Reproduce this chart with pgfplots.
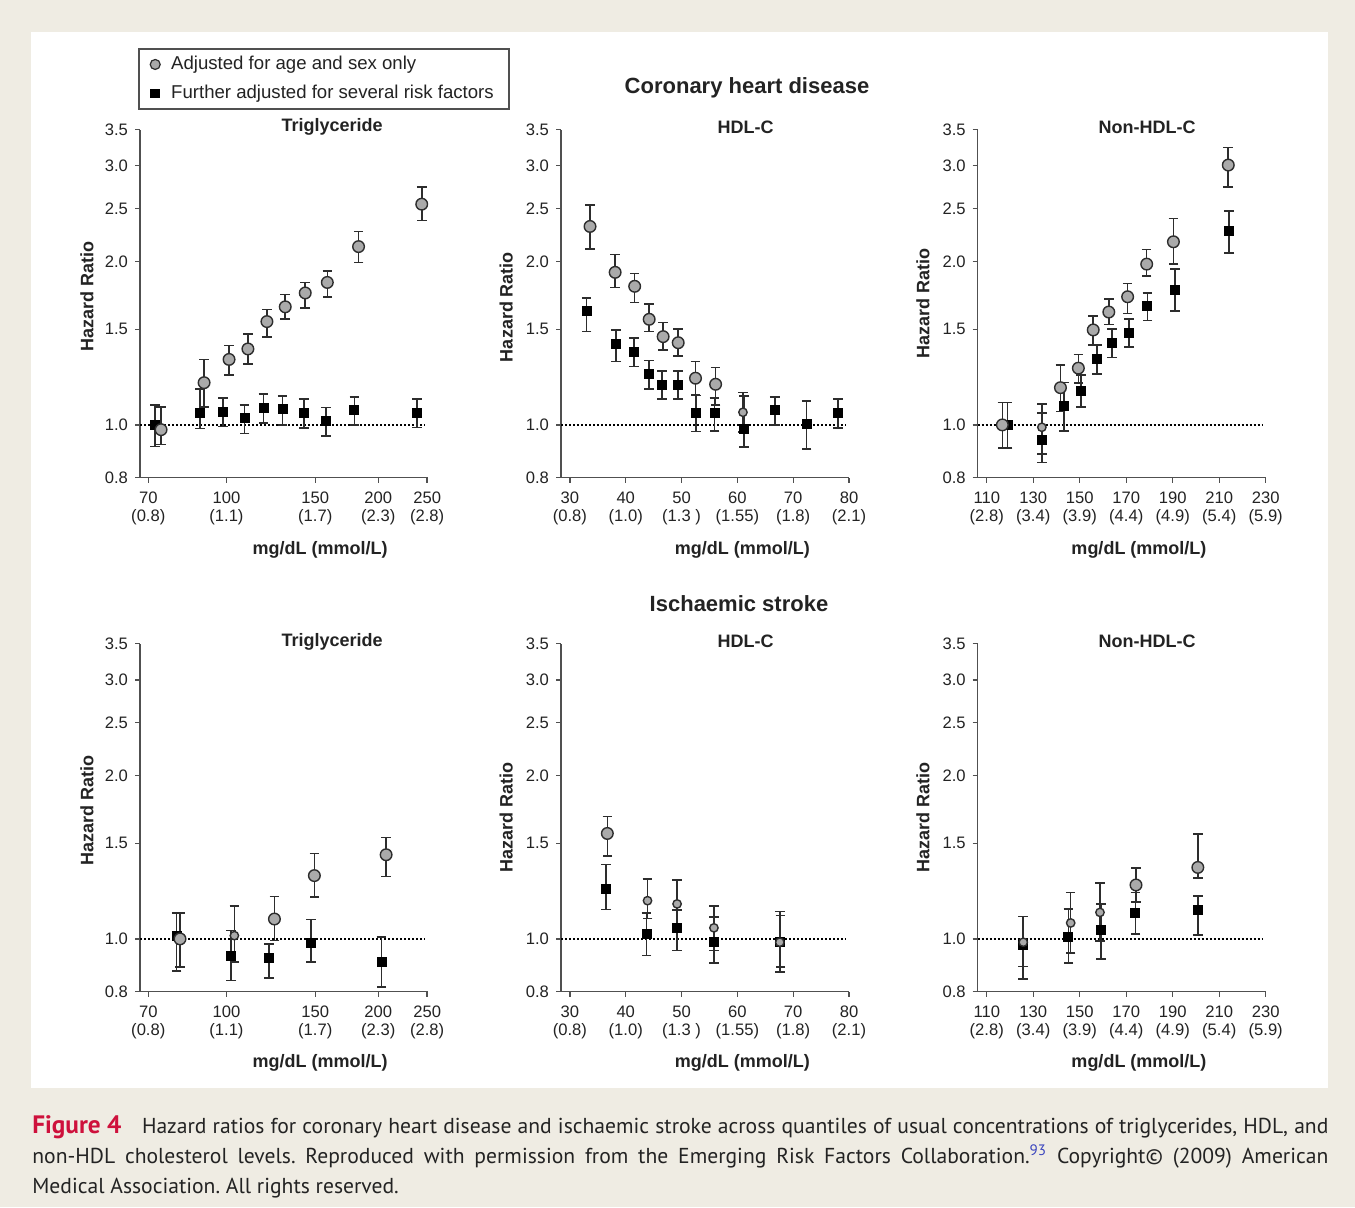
\documentclass[border=0pt]{standalone}
\usepackage{fontspec}
\setmainfont{Liberation Sans}
\newfontfamily\capfont{PT Sans}
\usepackage{pgfplots}
\usepackage{pgfplotstable}
\pgfplotsset{compat=1.18}

\definecolor{bgbeige}{RGB}{239,236,227}
\definecolor{txt}{RGB}{35,35,35}
\definecolor{ebar}{RGB}{45,45,45}
\definecolor{axgray}{RGB}{80,80,80}
\definecolor{cfill}{RGB}{170,170,170}
\definecolor{figred}{RGB}{206,17,60}
\definecolor{supblue}{RGB}{60,70,190}

% columns: x, hazard ratio, upper and lower ends of the error bar
% coronary heart disease
\pgfplotstableread{
x y hi lo
74.2 0.98 1.08 0.92
90.3 1.196 1.32 1.08
101.2 1.32 1.40 1.236
110.3 1.38 1.47 1.295
120.3 1.55 1.63 1.45
130.8 1.65 1.74 1.567
143.3 1.75 1.83 1.64
158.5 1.83 1.92 1.72
182.8 2.13 2.27 1.99
243.9 2.55 2.74 2.38
}\chdTgA
\pgfplotstableread{
x y hi lo
72.2 1.000 1.088 0.912
88.7 1.050 1.163 0.985
98.4 1.058 1.120 0.993
108.6 1.029 1.088 0.965
118.4 1.076 1.139 1.007
129.2 1.069 1.130 1.000
142.3 1.050 1.115 0.986
157.6 1.018 1.076 0.954
179.3 1.066 1.127 1.000
238.8 1.050 1.115 0.989
}\chdTgF
\pgfplotstableread{
x y hi lo
33.6 2.32 2.54 2.11
38.1 1.91 2.06 1.79
41.6 1.80 1.90 1.68
44.2 1.565 1.67 1.485
46.7 1.454 1.545 1.374
49.4 1.417 1.50 1.34
52.5 1.219 1.308 1.136
56.1 1.188 1.275 1.088
}\chdHdA
\pgfplotstableread{
x y hi lo
61.0 1.055 1.147 0.97
}\chdHdAs
\pgfplotstableread{
x y hi lo
33.0 1.62 1.715 1.485
38.3 1.41 1.496 1.308
41.5 1.364 1.444 1.28
44.2 1.24 1.313 1.163
46.5 1.185 1.257 1.115
49.4 1.185 1.257 1.115
52.6 1.05 1.132 0.972
55.9 1.053 1.12 0.975
61.2 0.983 1.13 0.91
66.7 1.066 1.127 1.0
72.4 1.003 1.107 0.902
78.0 1.053 1.115 0.986
}\chdHdF
\pgfplotstableread{
x y hi lo
116.7 1.0 1.099 0.906
141.7 1.171 1.29 1.058
149.4 1.272 1.349 1.193
155.8 1.496 1.589 1.404
162.5 1.614 1.704 1.532
170.6 1.722 1.823 1.605
178.8 1.978 2.105 1.88
190.3 2.174 2.40 1.978
213.9 3.01 3.24 2.74
}\chdNhA
\pgfplotstableread{
x y hi lo
133.7 0.99 1.093 0.884
}\chdNhAs
\pgfplotstableread{
x y hi lo
119.0 1.0 1.099 0.906
133.7 0.938 1.053 0.852
143.2 1.084 1.196 0.975
150.6 1.155 1.236 1.08
157.3 1.321 1.404 1.24
163.9 1.414 1.50 1.33
171.3 1.475 1.565 1.39
179.1 1.656 1.75 1.556
191.0 1.772 1.936 1.623
214.3 2.278 2.48 2.075
}\chdNhF
% ischaemic stroke
\pgfplotstableread{
x y hi lo
80.9 1.0 1.115 0.887
124.5 1.088 1.196 0.993
149.4 1.308 1.437 1.193
207.3 1.429 1.538 1.302
}\isTgA
\pgfplotstableread{
x y hi lo
103.7 1.014 1.151 0.906
}\isTgAs
\pgfplotstableread{
x y hi lo
79.7 1.014 1.115 0.872
102.2 0.929 1.036 0.838
121.5 0.923 0.979 0.848
147.2 0.983 1.085 0.906
202.9 0.906 1.007 0.815
}\isTgF
\pgfplotstableread{
x y hi lo
36.7 1.564 1.68 1.423
}\isHdA
\pgfplotstableread{
x y hi lo
43.9 1.176 1.29 1.091
49.2 1.16 1.284 1.05
55.8 1.048 1.151 0.952
67.6 0.986 1.123 0.868
}\isHdAs
\pgfplotstableread{
x y hi lo
36.5 1.236 1.37 1.132
43.7 1.021 1.116 0.932
49.2 1.05 1.13 0.952
55.8 0.986 1.096 0.903
67.7 0.986 1.104 0.887
}\isHdF
\pgfplotstableread{
x y hi lo
174.2 1.257 1.351 1.17
200.8 1.354 1.56 1.295
}\isNhA
\pgfplotstableread{
x y hi lo
125.7 0.986 1.099 0.89
146.1 1.07 1.218 0.942
158.7 1.119 1.268 0.99
}\isNhAs
\pgfplotstableread{
x y hi lo
125.5 0.975 1.099 0.844
145.1 1.01 1.136 0.903
159.2 1.039 1.16 0.919
173.9 1.115 1.218 1.021
200.8 1.131 1.2 1.017
}\isNhF

\pgfplotsset{
  hrax/.style={
    scale only axis, width=144pt, height=174pt,
    ymin=0.8, ymax=3.5,
    ytick={0.8,1,1.5,2,2.5,3,3.5},
    yticklabels={0.8,1.0,1.5,2.0,2.5,3.0,3.5},
    xminorticks=false, yminorticks=false,
    axis x line*=bottom, axis y line*=left,
    axis line style={line width=0.65pt, color=axgray},
    tick style={line width=0.65pt, color=axgray},
    tick align=outside, major tick length=2.5pt,
    tick label style={font=\fontsize{8.3}{9}\selectfont, text=txt},
    xticklabel style={align=center, yshift=-1pt},
    ylabel={Hazard Ratio}, xlabel={mg/dL (mmol/L)},
    label style={font=\bfseries\fontsize{9}{10}\selectfont, text=txt},
    title style={font=\bfseries\fontsize{9}{10}\selectfont, text=txt, anchor=center},
  },
  circ/.style={only marks, mark=*, mark size=2.9pt,
    mark options={fill=cfill, draw=ebar, line width=0.7pt}},
  circs/.style={only marks, mark=*, mark size=2.1pt,
    mark options={fill=cfill, draw=ebar, line width=0.7pt}},
  sq/.style={only marks, mark=square*, mark size=2.25pt,
    mark options={fill=black, draw=black}},
  errs/.style={
    /pgfplots/error bars/y dir=both,
    /pgfplots/error bars/y explicit,
    /pgfplots/error bars/error bar style={line width=0.8pt, color=ebar},
    /pgfplots/error bars/error mark options={line width=0.8pt, color=ebar, mark size=2.4pt, rotate=90}},
  dotl/.style={black, line width=1.3pt, dash pattern=on 1.1pt off 0.9pt},
}
\newcommand{\hrplot}[2]{\addplot[#1, forget plot, errs] table[x=x, y=y,
  y error plus expr=\thisrow{hi}-\thisrow{y},
  y error minus expr=\thisrow{y}-\thisrow{lo}] {#2};}

\begin{document}
\begin{tikzpicture}
\begin{scope}[x=0.5pt, y=-0.5pt]
  \fill[bgbeige] (0,0) rectangle (1355,1207);
  \fill[white] (31,32) rectangle (1328,1088);
  \node[font=\bfseries\fontsize{11}{13}\selectfont, text=txt] at (747,88) {Coronary heart disease};
  \node[font=\bfseries\fontsize{11}{13}\selectfont, text=txt] at (739,604) {Ischaemic stroke};
  \node[anchor=north west, inner sep=0pt, text width=648pt, align=justify,
        font=\capfont\fontsize{10.8}{15}\selectfont, text=txt] at (32,1115)
  {\frenchspacing\makebox[54.8pt][l]{\color{figred}\bfseries\fontsize{12.6}{15}\selectfont Figure 4}Hazard ratios for coronary heart disease and ischaemic stroke across quantiles of usual concentrations of triglycerides, HDL, and\linebreak
  non-HDL cholesterol levels. Reproduced with permission from the Emerging Risk Factors Collaboration.\textsuperscript{\color{supblue}93} Copyright\copyright{} (2009) American\linebreak
  Medical Association. All rights reserved.};
\end{scope}

% ---- coronary heart disease ----
\begin{axis}[hrax, ymode=log, xmode=log, at={(70pt,-238.75pt)}, anchor=south west,
  xmin=67.4, xmax=251,
  xtick={70,100,150,200,250},
  xticklabels={{70\\(0.8)},{100\\(1.1)},{150\\(1.7)},{200\\(2.3)},{250\\(2.8)}},
  title={Triglyceride}, title style={at={(axis description cs:0.667,0.9726)}},
  ylabel style={at={(axis description cs:-0.184,0.52)}, anchor=center},
  xlabel style={at={(axis description cs:0.625,-0.2085)}, anchor=center},
  legend style={at={(axis description cs:-0.0059,1.2333)}, anchor=north west,
    draw=axgray, line width=0.9pt, fill=white, text=txt,
    font=\fontsize{9.3}{11}\selectfont, inner xsep=5.5pt, inner ysep=1.5pt,
    row sep=2.3pt, column sep=3.5pt},
  legend cell align=left,
]
\addlegendimage{only marks, mark=*, mark size=2.5pt, mark options={fill=cfill, draw=ebar, line width=0.6pt}}
\addlegendentry{Adjusted for age and sex only}
\addlegendimage{only marks, mark=square*, mark size=2.0pt, mark options={fill=black, draw=black}}
\addlegendentry{Further adjusted for several risk factors}
\addplot[dotl, forget plot] coordinates {(67.4,1) (246.7,1)};
\hrplot{sq}{\chdTgF}
\hrplot{circ}{\chdTgA}
\end{axis}

\begin{axis}[hrax, ymode=log, at={(280.5pt,-238.75pt)}, anchor=south west,
  xmin=28.4, xmax=80,
  xtick={30,40,50,60,70,80},
  xticklabels={{30\\(0.8)},{40\\(1.0)},{50\\(1.3 )},{60\\(1.55)},{70\\(1.8)},{80\\(2.1)}},
  title={HDL-C}, title style={at={(axis description cs:0.641,0.9726)}},
  ylabel style={at={(axis description cs:-0.19,0.49)}, anchor=center},
  xlabel style={at={(axis description cs:0.63,-0.2085)}, anchor=center},
]
\addplot[dotl, forget plot] coordinates {(28.4,1) (79.4,1)};
\hrplot{sq}{\chdHdF}
\hrplot{circ}{\chdHdA}
\hrplot{circs}{\chdHdAs}
\end{axis}

\begin{axis}[hrax, ymode=log, at={(488.85pt,-238.75pt)}, anchor=south west,
  xmin=106.1, xmax=230,
  xtick={110,130,150,170,190,210,230},
  xticklabels={{110\\(2.8)},{130\\(3.4)},{150\\(3.9)},{170\\(4.4)},{190\\(4.9)},{210\\(5.4)},{230\\(5.9)}},
  title={Non-HDL-C}, title style={at={(axis description cs:0.588,0.9726)}},
  ylabel style={at={(axis description cs:-0.19,0.5)}, anchor=center},
  xlabel style={at={(axis description cs:0.56,-0.2085)}, anchor=center},
]
\addplot[dotl, forget plot] coordinates {(106.1,1) (228.3,1)};
\hrplot{sq}{\chdNhF}
\hrplot{circ}{\chdNhA}
\hrplot{circs}{\chdNhAs}
\end{axis}

% ---- ischaemic stroke ----
\begin{axis}[hrax, ymode=log, xmode=log, at={(70pt,-495.75pt)}, anchor=south west,
  xmin=67.4, xmax=251,
  xtick={70,100,150,200,250},
  xticklabels={{70\\(0.8)},{100\\(1.1)},{150\\(1.7)},{200\\(2.3)},{250\\(2.8)}},
  title={Triglyceride}, title style={at={(axis description cs:0.667,0.9712)}},
  ylabel style={at={(axis description cs:-0.184,0.52)}, anchor=center},
  xlabel style={at={(axis description cs:0.625,-0.2055)}, anchor=center},
]
\addplot[dotl, forget plot] coordinates {(67.4,1) (246.7,1)};
\hrplot{sq}{\isTgF}
\hrplot{circ}{\isTgA}
\hrplot{circs}{\isTgAs}
\end{axis}

\begin{axis}[hrax, ymode=log, at={(280.5pt,-495.75pt)}, anchor=south west,
  xmin=28.4, xmax=80,
  xtick={30,40,50,60,70,80},
  xticklabels={{30\\(0.8)},{40\\(1.0)},{50\\(1.3 )},{60\\(1.55)},{70\\(1.8)},{80\\(2.1)}},
  title={HDL-C}, title style={at={(axis description cs:0.641,0.9712)}},
  ylabel style={at={(axis description cs:-0.19,0.5)}, anchor=center},
  xlabel style={at={(axis description cs:0.63,-0.2055)}, anchor=center},
]
\addplot[dotl, forget plot] coordinates {(28.4,1) (79.4,1)};
\hrplot{sq}{\isHdF}
\hrplot{circ}{\isHdA}
\hrplot{circs}{\isHdAs}
\end{axis}

\begin{axis}[hrax, ymode=log, at={(488.85pt,-495.75pt)}, anchor=south west,
  xmin=106.1, xmax=230,
  xtick={110,130,150,170,190,210,230},
  xticklabels={{110\\(2.8)},{130\\(3.4)},{150\\(3.9)},{170\\(4.4)},{190\\(4.9)},{210\\(5.4)},{230\\(5.9)}},
  title={Non-HDL-C}, title style={at={(axis description cs:0.588,0.9712)}},
  ylabel style={at={(axis description cs:-0.19,0.5)}, anchor=center},
  xlabel style={at={(axis description cs:0.56,-0.2055)}, anchor=center},
]
\addplot[dotl, forget plot] coordinates {(106.1,1) (228.3,1)};
\hrplot{sq}{\isNhF}
\hrplot{circ}{\isNhA}
\hrplot{circs}{\isNhAs}
\end{axis}
\end{tikzpicture}
\end{document}
